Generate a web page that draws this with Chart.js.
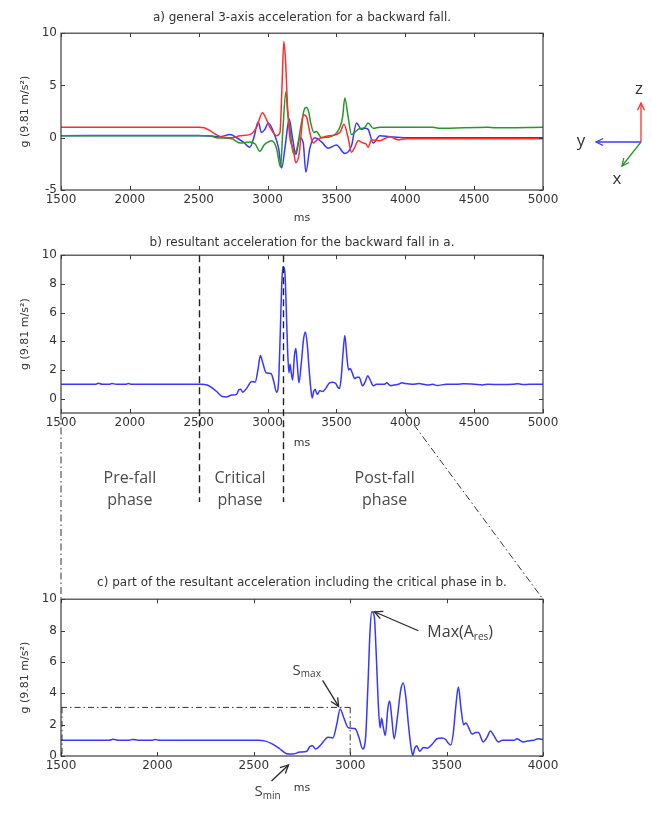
<!DOCTYPE html>
<html>
<head>
<meta charset="utf-8">
<script src="https://cdn.jsdelivr.net/npm/chart.js@4.4.0/dist/chart.umd.min.js"></script>
<style>
  html, body { margin: 0; padding: 0; background: #fff; }
  #page { position: relative; width: 652px; height: 817px; overflow: hidden; background: #fff; }
  .box { position: absolute; left: 0; width: 652px; }
  #overlay { position: absolute; left: 0; top: 0; pointer-events: none; }
</style>
</head>
<body>
<div id="page">
  <div class="box" style="top:0;height:230px"><canvas id="chartA"></canvas></div>
  <div class="box" style="top:230px;height:290px"><canvas id="chartB"></canvas></div>
  <div class="box" style="top:570px;height:247px"><canvas id="chartC"></canvas></div>
  <canvas id="overlay" width="652" height="817"></canvas>
</div>
<script>
// ---- data (ms, g) ----
const redMs = [1500, 2500, 2540, 2580, 2620, 2660, 2750, 2800, 2870, 2920, 2963, 2990, 3017, 3065, 3090, 3105, 3118, 3130, 3145, 3162, 3186, 3205, 3230, 3245, 3259, 3283, 3307, 3331, 3360, 3390, 3452, 3500, 3530, 3554, 3585, 3609, 3630, 3658, 3694, 3715, 3730, 3755, 3815, 3850, 3888, 3948, 4008, 5000];
const redG  = [1.0, 1.0, 0.95, 0.7, 0.35, 0.1, 0.0, 0.2, 0.3, 1.0, 2.4, 1.8, 1.0, 0.2, 0.5, 5.0, 9.2, 7.5, 3.0, 0.0, -1.0, -2.4, -1.5, 0.5, 2.2, 2.0, 0.5, -0.5, -0.2, 0.0, 0.2, 0.3, 0.6, 1.3, 0.0, -1.4, -1.0, -0.3, -0.5, -0.6, -0.9, -0.2, -0.3, -0.1, 0.1, -0.2, -0.1, -0.1];

const greenMs = [1500, 2580, 2630, 2739, 2800, 2872, 2910, 2944, 2975, 2993, 3029, 3065, 3094, 3110, 3133, 3145, 3162, 3186, 3210, 3247, 3270, 3283, 3300, 3312, 3336, 3355, 3392, 3476, 3525, 3545, 3561, 3585, 3609, 3658, 3706, 3730, 3767, 3815, 3900, 4200, 4250, 4600, 4650, 5000];
const greenG  = [0.2, 0.2, 0.0, -0.1, -0.5, -0.4, -0.6, -1.3, -0.7, -0.5, -0.3, -1.0, -2.8, 0.5, 4.4, 2.5, 1.0, -1.5, -1.2, 1.5, 2.8, 2.9, 2.4, 1.5, 0.5, 0.6, 0.0, 0.2, 1.0, 2.0, 3.8, 2.0, 0.3, 0.8, 1.0, 1.4, 0.9, 1.0, 1.0, 1.0, 0.9, 1.0, 0.95, 1.0];

const blueMs = [1500, 2100, 2500, 2654, 2727, 2775, 2823, 2872, 2900, 2932, 2956, 2980, 3005, 3053, 3080, 3102, 3126, 3145, 3157, 3181, 3205, 3235, 3259, 3278, 3307, 3343, 3392, 3440, 3500, 3561, 3609, 3646, 3682, 3706, 3730, 3767, 3815, 3888, 4008, 5000];
const blueG  = [0.2, 0.22, 0.22, 0.1, 0.3, 0.0, -0.4, -0.9, 0.0, 1.5, 0.5, 0.8, 1.4, 0.2, -1.0, -2.9, -1.0, 1.0, 1.8, 0.0, -1.6, 0.0, -0.5, -3.3, -1.0, 0.0, -0.4, -1.0, -0.7, -1.5, -0.8, 1.4, 0.8, 0.9, 0.8, -0.5, 0.2, 0.1, 0.0, 0.0];

// resultant acceleration (used by b and c)
const resMs = [1500, 1750, 1770, 1800, 1850, 1870, 1900, 1970, 1990, 2010, 2520, 2560, 2590, 2630, 2670, 2700, 2740, 2775, 2790, 2805, 2820, 2850, 2885, 2910, 2930, 2948, 2965, 2990, 3025, 3045, 3065, 3080, 3092, 3103, 3112, 3125, 3135, 3145, 3155, 3163, 3172, 3182, 3195, 3205, 3215, 3228, 3245, 3262, 3275, 3288, 3302, 3315, 3324, 3335, 3345, 3360, 3380, 3400, 3425, 3450, 3475, 3495, 3510, 3522, 3535, 3548, 3561, 3575, 3588, 3600, 3615, 3632, 3650, 3665, 3690, 3710, 3727, 3745, 3768, 3790, 3815, 3850, 3865, 3880, 3895, 3920, 3950, 3975, 4000, 4050, 4100, 4130, 4160, 4200, 4230, 4300, 4380, 4420, 4500, 4560, 4600, 4700, 4780, 4820, 4860, 4900, 5000];
const resG  = [1.0, 1.0, 1.07, 1.0, 1.0, 1.06, 1.0, 1.0, 1.06, 1.0, 1.0, 0.95, 0.8, 0.5, 0.15, 0.12, 0.25, 0.3, 0.6, 0.65, 0.45, 0.75, 1.2, 1.15, 2.0, 3.0, 2.5, 1.8, 1.75, 1.2, 0.45, 1.2, 4.5, 8.0, 9.2, 8.9, 6.5, 3.5, 1.8, 2.4, 1.8, 1.3, 3.0, 3.5, 2.5, 1.1, 2.5, 4.2, 4.65, 3.8, 2.0, 0.6, 0.05, 0.5, 0.65, 0.3, 0.55, 0.5, 0.75, 1.1, 1.15, 1.05, 0.8, 0.7, 1.5, 3.2, 4.4, 3.0, 2.0, 2.1, 1.8, 1.4, 1.5, 1.5, 0.9, 1.2, 1.6, 1.3, 0.9, 1.0, 1.0, 1.0, 1.1, 1.0, 0.9, 0.95, 1.0, 1.1, 1.05, 1.0, 1.05, 1.0, 0.95, 1.0, 0.92, 1.0, 1.0, 1.04, 1.0, 0.96, 1.0, 0.98, 1.0, 1.04, 0.98, 1.0, 1.0];

const phaseBounds = [2500, 3110];
const phaseNames = [['Pre-fall', 'phase'], ['Critical', 'phase'], ['Post-fall', 'phase']];
const phaseCenters = [2000, 2800, 3850];
const zoomRange = [1500, 4000];
const sMaxLevel = 3.1;
const sMaxAt = [2945, 3.1];
const sMinAt = 2680;
const peakAt = [3115, 9.2];

const FONT = '"DejaVu Sans", sans-serif';
const NOTE_FONT = '"Open Sans", sans-serif';
const INK = '#333';
const RED = 'rgb(255,45,45)';
const GREEN = 'rgb(40,150,40)';
const BLUE = 'rgb(55,55,255)';

function pts(xs, ys) {
    return xs.map((x, i) => ({ x: x, y: ys[i] }));
}

// MATLAB-like frame with inward ticks
const boxPlugin = {
    id: 'matlabBox',
    afterDatasetsDraw(chart) {
        const { ctx, chartArea: a, scales: { x, y } } = chart;
        const len = 4;
        ctx.save();
        ctx.strokeStyle = '#3c3c3c';
        ctx.lineWidth = 1.2;
        ctx.strokeRect(a.left, a.top, a.right - a.left, a.bottom - a.top);
        ctx.lineWidth = 1;
        ctx.beginPath();
        x.ticks.forEach(t => {
            const px = Math.round(x.getPixelForValue(t.value)) + 0.5;
            ctx.moveTo(px, a.bottom); ctx.lineTo(px, a.bottom - len);
            ctx.moveTo(px, a.top); ctx.lineTo(px, a.top + len);
        });
        y.ticks.forEach(t => {
            const py = Math.round(y.getPixelForValue(t.value)) + 0.5;
            ctx.moveTo(a.left, py); ctx.lineTo(a.left + len, py);
            ctx.moveTo(a.right, py); ctx.lineTo(a.right - len, py);
        });
        ctx.stroke();
        ctx.restore();
    }
};

function baseOptions(o) {
    return {
        responsive: true,
        maintainAspectRatio: false,
        animation: false,
        events: [],
        layout: { padding: { left: 0, right: 109, top: 0, bottom: o.padBottom } },
        plugins: {
            legend: { display: false },
            tooltip: { enabled: false },
            title: {
                display: true, text: o.title, color: INK, fullSize: false,
                font: { family: FONT, size: 12, weight: 'normal', lineHeight: 1.1 },
                padding: o.titlePad
            }
        },
        elements: { point: { radius: 0 }, line: { borderWidth: 1.5, tension: 0 } },
        scales: {
            x: {
                type: 'linear', min: o.xMin, max: o.xMax,
                afterFit: s => { s.height = 40; },
                grid: { display: false, drawTicks: false },
                border: { display: false },
                ticks: { stepSize: 500, color: INK, font: { family: FONT, size: 12 }, padding: 3, maxRotation: 0, autoSkip: false,
                    callback: v => String(v) },
                title: { display: true, text: 'ms', color: INK, font: { family: FONT, size: 11 }, padding: { top: 0, bottom: o.msPad } }
            },
            y: {
                min: o.yMin, max: o.yMax,
                afterFit: s => { s.width = 61; },
                afterBuildTicks: s => { s.ticks = s.ticks.filter(t => t.value % o.yStep === 0); },
                grid: { display: false, drawTicks: false },
                border: { display: false },
                ticks: { stepSize: o.yStep, color: INK, font: { family: FONT, size: 12 }, padding: 4, callback: v => String(v) },
                title: { display: true, text: 'g (9.81 m/s²)', color: INK, font: { family: FONT, size: 11 }, padding: { top: 19, bottom: 0 } }
            }
        }
    };
}

function line(xs, ys, color) {
    return { data: pts(xs, ys), borderColor: color, backgroundColor: color, borderWidth: 1.5, pointRadius: 0, cubicInterpolationMode: 'monotone' };
}

// dashed phase borders and phase names under b
const phasePlugin = {
    id: 'phases',
    afterDraw(chart) {
        const { ctx, chartArea: a, scales: { x } } = chart;
        ctx.save();
        ctx.strokeStyle = '#222';
        ctx.lineWidth = 1.4;
        ctx.setLineDash([7, 4]);
        phaseBounds.forEach(v => {
            const px = Math.round(x.getPixelForValue(v)) + 0.5;
            ctx.beginPath();
            ctx.moveTo(px, a.top);
            ctx.lineTo(px, a.bottom + 89);
            ctx.stroke();
        });
        ctx.setLineDash([]);
        ctx.fillStyle = '#4a4a4a';
        ctx.font = '16px ' + NOTE_FONT;
        ctx.textAlign = 'center';
        ctx.textBaseline = 'middle';
        phaseNames.forEach((lines, i) => {
            const px = x.getPixelForValue(phaseCenters[i]);
            lines.forEach((t, j) => ctx.fillText(t, px, a.bottom + 65 + j * 22));
        });
        ctx.restore();
    }
};

function arrow(ctx, x1, y1, x2, y2, head) {
    ctx.beginPath();
    ctx.moveTo(x1, y1); ctx.lineTo(x2, y2);
    ctx.stroke();
    const ang = Math.atan2(y2 - y1, x2 - x1);
    ctx.beginPath();
    ctx.moveTo(x2 - head * Math.cos(ang - 0.45), y2 - head * Math.sin(ang - 0.45));
    ctx.lineTo(x2, y2);
    ctx.lineTo(x2 - head * Math.cos(ang + 0.45), y2 - head * Math.sin(ang + 0.45));
    ctx.stroke();
}

// text with subscripts: parts = [[text, isSub], ...]
function subText(ctx, parts, x, y, size) {
    ctx.textAlign = 'left';
    ctx.textBaseline = 'middle';
    parts.forEach(([t, sub]) => {
        ctx.font = (sub ? Math.round(size * 0.65) : size) + 'px ' + NOTE_FONT;
        ctx.fillText(t, x, sub ? y + 4 : y);
        x += ctx.measureText(t).width;
    });
}

// S_min / S_max / Max(A_res) notes on c
const notesPlugin = {
    id: 'notes',
    afterDraw(chart) {
        const { ctx, chartArea: a, scales: { x, y } } = chart;
        ctx.save();
        ctx.strokeStyle = '#333';
        ctx.lineWidth = 1;
        ctx.setLineDash([6, 3, 1.5, 3]);
        const lvl = y.getPixelForValue(sMaxLevel);
        const x0 = x.getPixelForValue(zoomRange[0]);
        const x3 = x.getPixelForValue(3000);
        ctx.beginPath();
        ctx.moveTo(x0, lvl); ctx.lineTo(x3, lvl);
        ctx.moveTo(x3, lvl); ctx.lineTo(x3, a.bottom);
        ctx.moveTo(x0 + 1, lvl); ctx.lineTo(x0 + 1, a.bottom);
        ctx.stroke();
        ctx.setLineDash([]);

        ctx.strokeStyle = '#2a2a2a';
        ctx.lineWidth = 1.3;
        const px = x.getPixelForValue(peakAt[0]), py = y.getPixelForValue(peakAt[1]);
        arrow(ctx, px + 46, py + 19, px + 2, py, 9);
        const sx = x.getPixelForValue(sMaxAt[0]), sy = y.getPixelForValue(sMaxAt[1]);
        arrow(ctx, sx - 17, sy - 27, sx - 1, sy - 1, 9);
        const mx = x.getPixelForValue(sMinAt), my = a.bottom + 9;
        arrow(ctx, mx - 17, my + 16, mx, my, 9);

        ctx.fillStyle = '#3d3d3d';
        subText(ctx, [['Max(A', false], ['res', true], [')', false]], px + 55, py + 21, 16);
        subText(ctx, [['S', false], ['max', true]], sx - 47, sy - 37, 15);
        subText(ctx, [['S', false], ['min', true]], mx - 34, my + 27, 15);
        ctx.restore();
    }
};

const chartA = new Chart(document.getElementById('chartA'), {
    type: 'line',
    data: { datasets: [line(redMs, redG, RED), line(greenMs, greenG, GREEN), line(blueMs, blueG, BLUE)] },
    options: baseOptions({
        title: 'a) general 3-axis acceleration for a backward fall.',
        titlePad: { top: 11, bottom: 9 }, padBottom: 0, msPad: 5.4,
        xMin: 1500, xMax: 5000, yMin: -5, yMax: 10, yStep: 5
    }),
    plugins: [boxPlugin]
});

const chartB = new Chart(document.getElementById('chartB'), {
    type: 'line',
    data: { datasets: [line(resMs, resG, BLUE)] },
    options: baseOptions({
        title: 'b) resultant acceleration for the backward fall in a.',
        titlePad: { top: 6, bottom: 6 }, padBottom: 67, msPad: 3.4,
        xMin: 1500, xMax: 5000, yMin: -1, yMax: 10, yStep: 2
    }),
    plugins: [boxPlugin, phasePlugin]
});

const chartC = new Chart(document.getElementById('chartC'), {
    type: 'line',
    data: { datasets: [line(resMs, resG, BLUE)] },
    options: baseOptions({
        title: 'c) part of the resultant acceleration including the critical phase in b.',
        titlePad: { top: 6.5, bottom: 9.5 }, padBottom: 21, msPad: 1.4,
        xMin: zoomRange[0], xMax: zoomRange[1], yMin: 0, yMax: 10, yStep: 2
    }),
    plugins: [boxPlugin, notesPlugin]
});

// zoom connectors between b and c, plus the axis sketch beside a
function drawOverlay() {
    const ctx = document.getElementById('overlay').getContext('2d');
    ctx.clearRect(0, 0, 652, 817);
    const offB = 230, offC = 570;
    const yB = offB + chartB.chartArea.bottom;
    const yC = offC + chartC.chartArea.top;
    ctx.save();
    ctx.strokeStyle = '#333';
    ctx.lineWidth = 1;
    ctx.setLineDash([7, 3, 1.5, 3]);
    zoomRange.forEach(v => {
        ctx.beginPath();
        ctx.moveTo(chartB.scales.x.getPixelForValue(v), yB);
        ctx.lineTo(chartC.scales.x.getPixelForValue(v), yC);
        ctx.stroke();
    });
    ctx.setLineDash([]);

    const ox = 641, oy = 142;
    ctx.lineWidth = 1.3;
    ctx.strokeStyle = RED;   arrow(ctx, ox, oy, ox, 103, 8);
    ctx.strokeStyle = BLUE;  arrow(ctx, ox, oy, 596, oy, 8);
    ctx.strokeStyle = GREEN; arrow(ctx, ox, oy, 622, 166, 8);
    ctx.fillStyle = INK;
    ctx.font = '17px ' + NOTE_FONT;
    ctx.textAlign = 'center';
    ctx.textBaseline = 'middle';
    ctx.fillText('z', 639, 89);
    ctx.fillText('y', 581, 141);
    ctx.fillText('x', 617, 179);
    ctx.restore();
}
drawOverlay();
</script>
</body>
</html>
